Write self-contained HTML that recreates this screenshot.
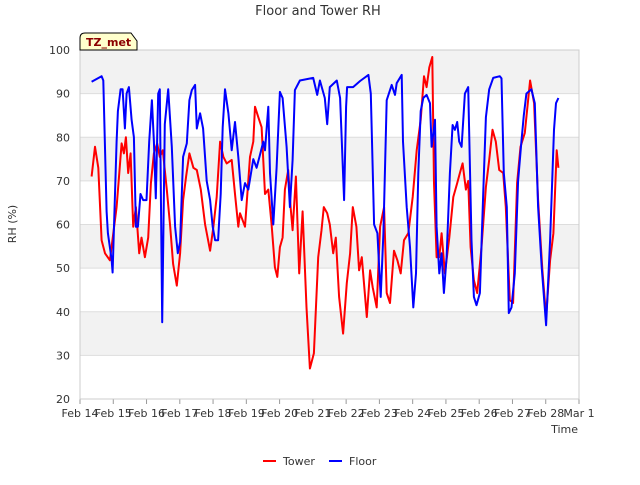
<!DOCTYPE html>
<html><head><meta charset="utf-8"><style>
body{margin:0;background:#fff;font-family:"Liberation Sans","DejaVu Sans",sans-serif;}
svg text{font-family:"DejaVu Sans","Liberation Sans",sans-serif;}
</style></head><body>
<svg id="c" width="640" height="480" xmlns="http://www.w3.org/2000/svg">
<rect width="640" height="480" fill="#fff"/>
<text x="318" y="15" text-anchor="middle" font-size="13" fill="#333">Floor and Tower RH</text>
<g id="bands"></g><g id="grid"></g><g id="axes"></g><g id="series"></g>
<rect x="80" y="50" width="499" height="349" fill="none" stroke="#ccc"/>
<text x="16" y="224" font-size="11" fill="#333" transform="rotate(-90 16 224)" text-anchor="middle">RH (%)</text>
<text x="578" y="433" font-size="11" fill="#333" text-anchor="end">Time</text>
<g>
<path d="M80,50 L80,38 Q80,33 85,33 L131,33 L137,41 L137,50 Z" fill="#ffffcc" stroke="#000" stroke-width="1"/>
<text x="86" y="46" font-size="11" font-weight="bold" fill="#8b0000">TZ_met</text></g>
<g><line x1="263" y1="461" x2="276" y2="461" stroke="#f00" stroke-width="2"/><text x="283" y="465" font-size="11" fill="#333">Tower</text></g>
<g><line x1="329" y1="461" x2="342" y2="461" stroke="#00f" stroke-width="2"/><text x="349" y="465" font-size="11" fill="#333">Floor</text></g>
</svg>
<script>
const xTicks=["Feb 14","Feb 15","Feb 16","Feb 17","Feb 18","Feb 19","Feb 20","Feb 21","Feb 22","Feb 23","Feb 24","Feb 25","Feb 26","Feb 27","Feb 28","Mar 1"];
const yTicks=[20,30,40,50,60,70,80,90,100];
const floorDays=[0.35,0.65,0.70,0.80,0.84,0.95,0.98,1.10,1.14,1.22,1.28,1.35,1.40,1.47,1.55,1.62,1.68,1.74,1.82,1.90,2.00,2.08,2.16,2.22,2.28,2.35,2.40,2.47,2.55,2.65,2.76,2.86,2.94,3.01,3.10,3.21,3.29,3.36,3.46,3.51,3.61,3.70,3.81,3.91,3.99,4.06,4.15,4.23,4.29,4.36,4.46,4.56,4.66,4.76,4.86,4.96,5.06,5.21,5.31,5.41,5.51,5.56,5.66,5.71,5.81,5.91,6.01,6.09,6.21,6.31,6.39,6.46,6.61,7.01,7.13,7.21,7.36,7.43,7.51,7.72,7.82,7.94,8.00,8.03,8.21,8.42,8.67,8.74,8.84,8.94,9.04,9.12,9.22,9.37,9.47,9.52,9.67,9.71,9.82,9.92,10.02,10.10,10.17,10.24,10.32,10.42,10.52,10.57,10.67,10.72,10.80,10.87,10.94,11.02,11.12,11.20,11.27,11.34,11.40,11.47,11.57,11.67,11.77,11.84,11.92,12.02,12.12,12.20,12.30,12.42,12.62,12.67,12.74,12.83,12.89,12.97,13.07,13.17,13.27,13.34,13.42,13.57,13.67,13.77,13.88,14.01,14.13,14.25,14.31,14.38];
const floorRH=[92.7,94,93,63,58,52,49,79,86,91,91,82,90,91.5,84,80,59.5,59.5,67,65.6,65.6,79,88.5,79,66,90,91,37.6,83,91,77.8,59.5,53.4,56,75.5,78.6,88.5,90.8,92,82,85.5,82,70,65.6,59.5,56.4,56.4,67,82.3,91,85.5,77,83.5,75.5,65.6,69.5,68,75,73,76,79,77,87,71.8,60,73,90.4,89,77.8,64,74.8,90.8,93,93.6,89.7,93,89,83,91.5,93,89,65.6,87,91.5,91.5,92.9,94.3,90,60,58,43.4,58,88.5,92,89.7,92.4,94.3,79,64,54.8,41,48.8,71.8,86,89,89.7,87.8,77.8,84,59.5,48.8,53.4,44.3,52.5,71.8,82.8,81.7,83.5,79,77.8,90,91.5,56.4,43.4,41.5,44.3,67,84.6,91,93.6,94,93.5,71.8,64,39.7,41,48.8,70,79,85,90,91,87.8,64,50.2,36.9,56.4,81.7,87.8,89];
const towerDays=[0.35,0.45,0.55,0.65,0.75,0.90,1.00,1.10,1.18,1.25,1.32,1.38,1.45,1.52,1.60,1.68,1.78,1.85,1.95,2.05,2.13,2.22,2.32,2.40,2.49,2.61,2.71,2.80,2.91,3.01,3.10,3.19,3.29,3.41,3.51,3.63,3.76,3.91,4.01,4.11,4.21,4.31,4.41,4.56,4.66,4.76,4.81,4.96,5.11,5.21,5.26,5.36,5.46,5.56,5.66,5.76,5.86,5.93,6.01,6.09,6.16,6.26,6.33,6.39,6.49,6.59,6.69,6.81,6.91,7.03,7.16,7.26,7.33,7.43,7.51,7.61,7.69,7.79,7.91,8.02,8.12,8.20,8.31,8.39,8.47,8.62,8.72,8.80,8.92,9.02,9.14,9.22,9.32,9.44,9.54,9.64,9.74,9.87,10.00,10.12,10.24,10.34,10.42,10.50,10.59,10.64,10.72,10.80,10.87,10.97,11.10,11.22,11.34,11.42,11.50,11.60,11.67,11.74,11.84,11.94,12.07,12.20,12.30,12.40,12.50,12.60,12.72,12.80,12.92,13.02,13.14,13.24,13.37,13.53,13.65,13.77,13.90,14.01,14.13,14.23,14.33,14.38];
const towerRH=[71,77.8,73,56.4,53.4,51.8,58,64,71.8,78.6,76.3,80,71.8,76.3,59.5,64,53.4,57,52.5,57,69.5,76.3,78.6,75.5,77,68,59.5,51,46,53.4,65.6,71,76.3,73,72.5,68,60,54,59.5,66.3,79,75.5,74,74.8,67,59.5,62.6,59.5,75.5,79,87,84.6,82.3,67,68,60,50.2,48,54.8,57,68,72.5,64,58.7,71,48.8,63,41,27,30.5,52.5,58.7,64,62.6,60,53.4,57,43.4,35,46.6,53.4,64,59.5,49.5,52.5,38.8,49.5,45.6,41,59.5,64,44.3,42,54,51.8,48.8,56.4,58,66.3,77,84,94,91.5,96,98.4,69.5,52.5,52.5,58,48.8,57,66.3,69.5,71.8,74,68,70,54.8,47.2,44.3,54.8,68.6,74.8,81.7,79,72.5,71.8,64,42.7,42,69.5,77.8,81,93,87.8,65.6,49.5,38.8,51.8,58,77,73];
const NS="http://www.w3.org/2000/svg";
const X0=80,X1=579,Y0=399,Y1=50;
function xs(d){return X0+d*(X1-X0)/15;}
function ys(v){return Y0-(v-20)*(Y0-Y1)/80;}
function mk(tag,attrs,parent){const e=document.createElementNS(NS,tag);for(const k in attrs)e.setAttribute(k,attrs[k]);document.getElementById(parent).appendChild(e);return e;}
for(let v=30;v<100;v+=20){const r=mk('rect',{x:X0,y:ys(v+10),width:X1-X0,height:ys(v)-ys(v+10),fill:'#f2f2f2'},'bands');

}
yTicks.forEach(v=>{const l=mk('line',{x1:X0,x2:X1,y1:ys(v),y2:ys(v),stroke:'#ddd'},'grid');


const t=mk('text',{x:X0-10,y:ys(v)+4,'text-anchor':'end','font-size':'11',fill:'#333'},'axes');t.textContent=v;

});
xTicks.forEach((s,i)=>{const tk=mk('line',{x1:xs(i),x2:xs(i),y1:Y0,y2:Y0+5,stroke:'#999'},'axes');


const t=mk('text',{x:xs(i),y:Y0+18,'text-anchor':'middle','font-size':'11',fill:'#333'},'axes');t.textContent=s;

});
function line(days,vals,color,name){const d=days.map((t,i)=>(i?'L':'M')+xs(t).toFixed(1)+','+ys(vals[i]).toFixed(1)).join('');
const p=mk('path',{d:d,fill:'none',stroke:color,'stroke-width':'2','stroke-linejoin':'round'},'series');

}
line(towerDays,towerRH,'#f00','tower-line');
line(floorDays,floorRH,'#00f','floor-line');
</script>
</body></html>
